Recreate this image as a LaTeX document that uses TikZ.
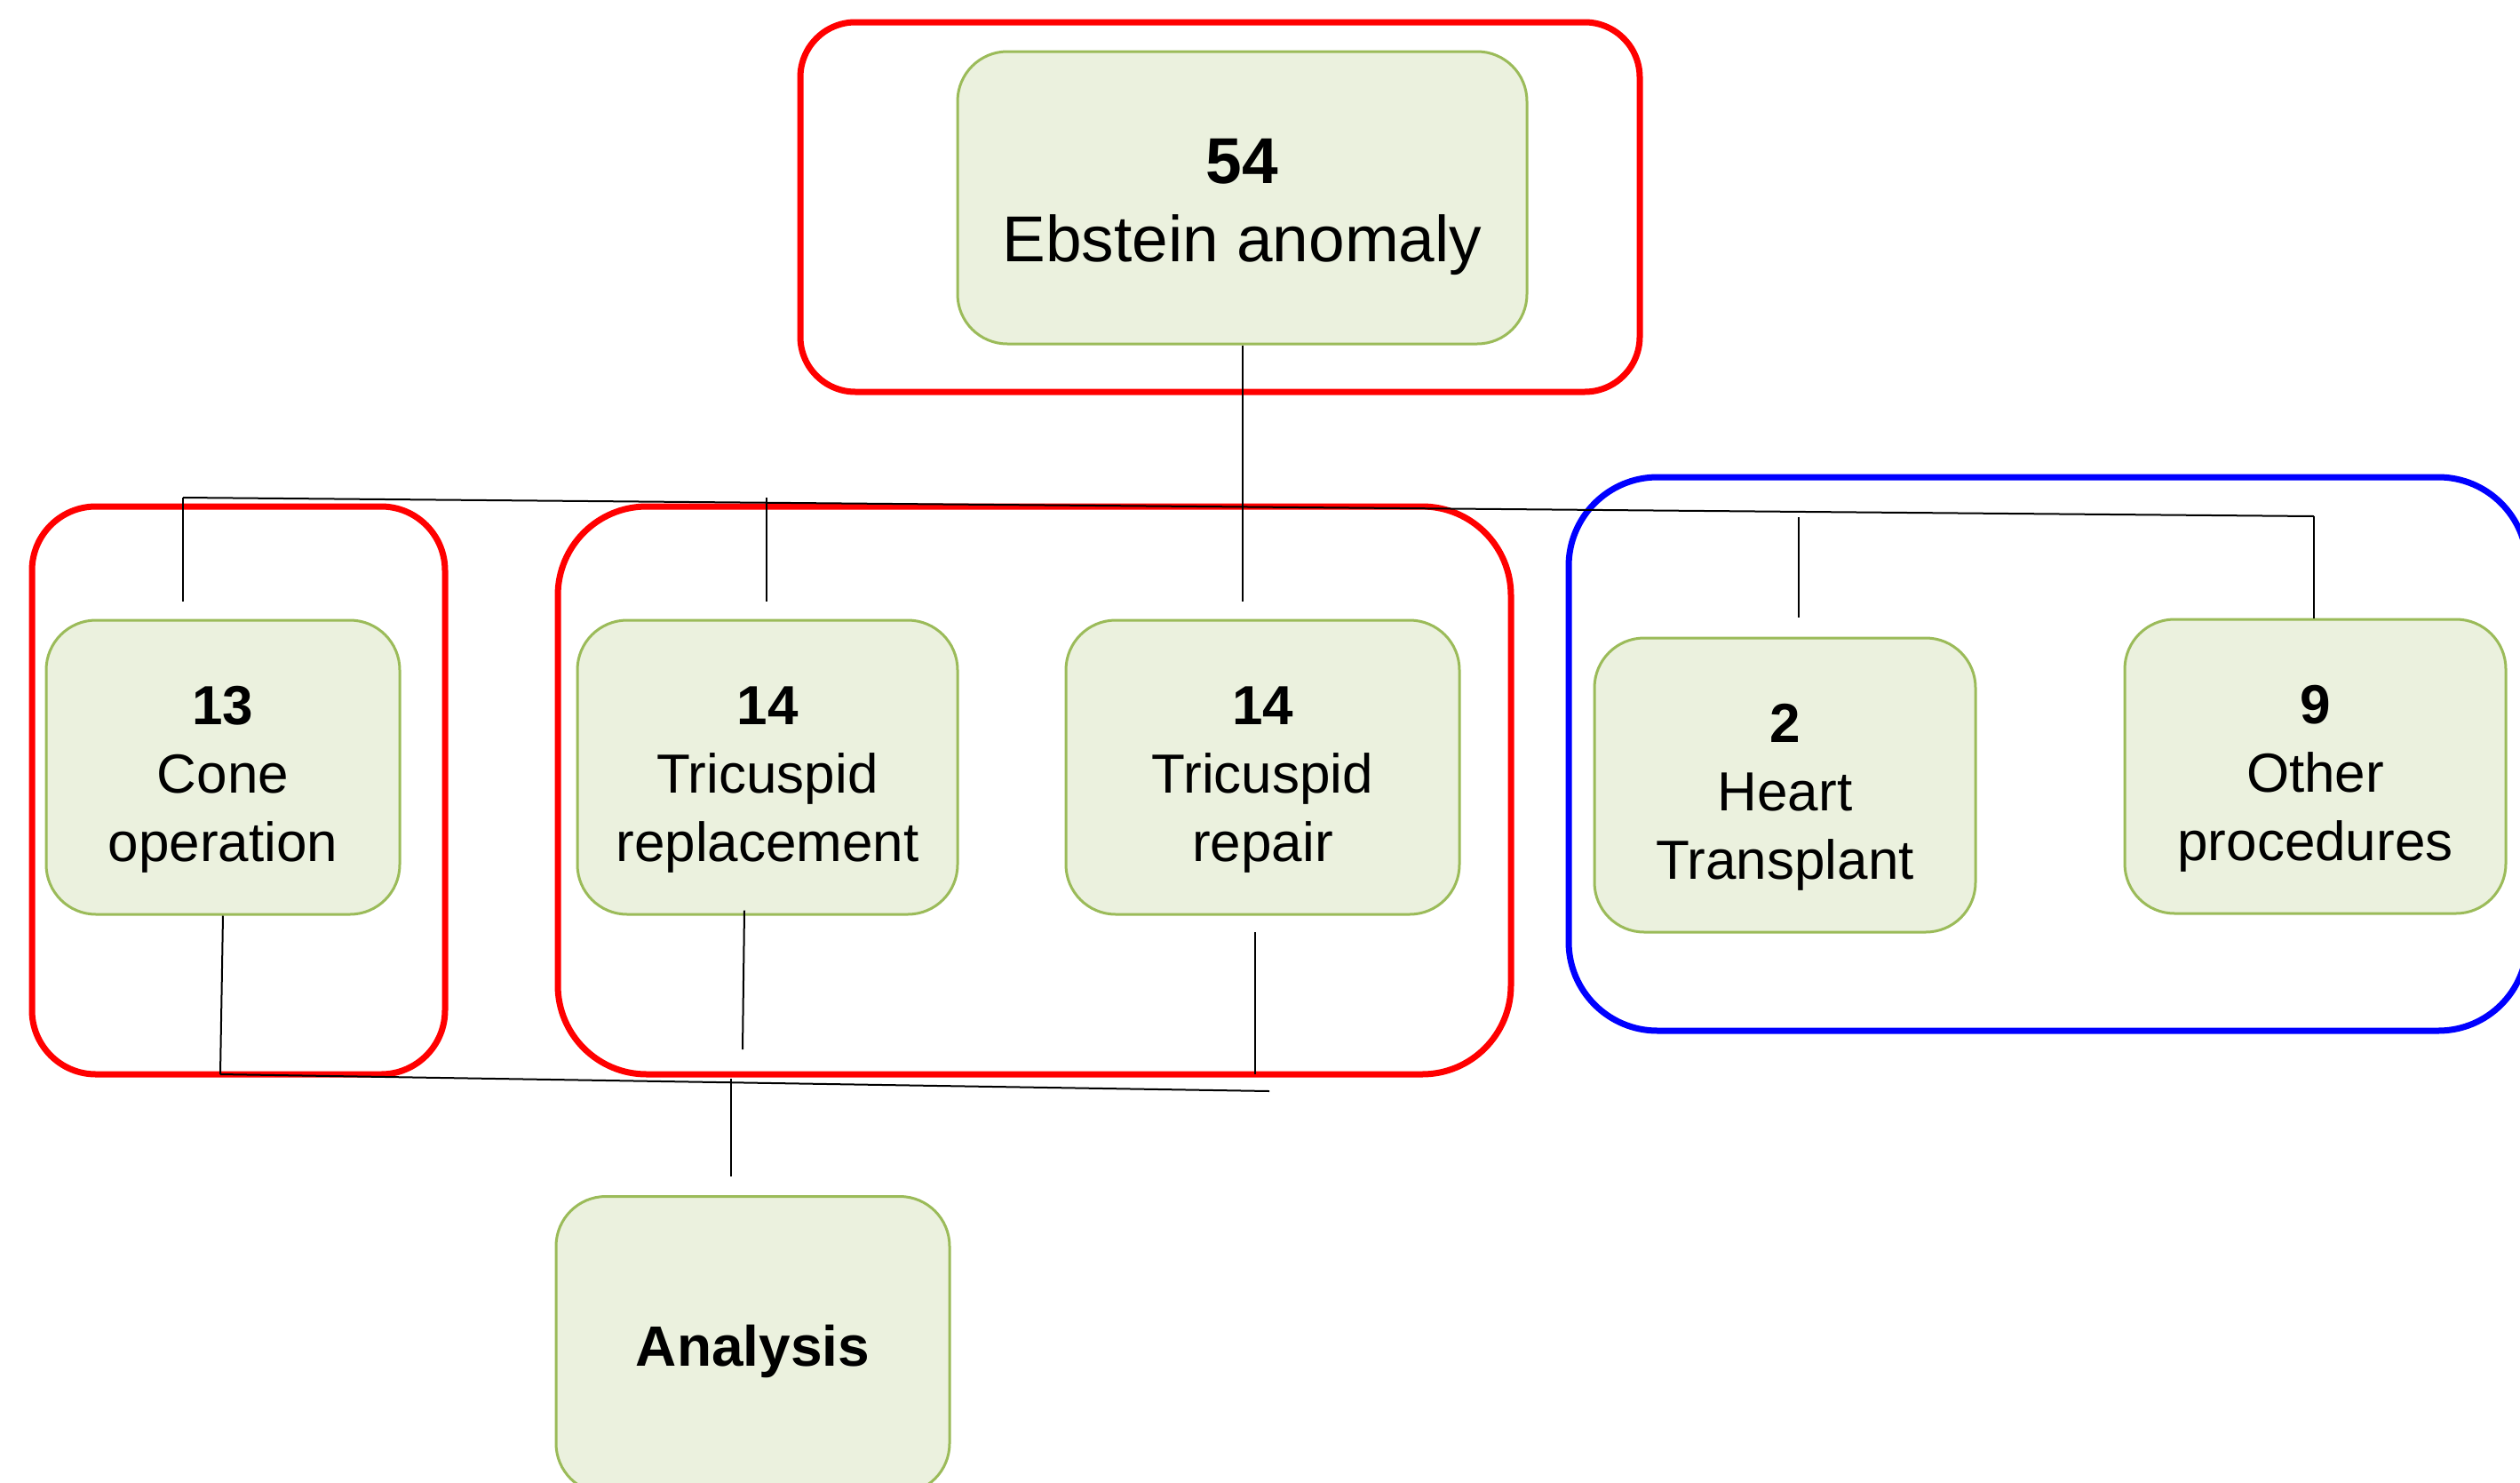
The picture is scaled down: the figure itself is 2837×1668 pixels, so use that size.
\documentclass[tikz,border=0pt]{standalone}
\usepackage{fontspec}
\setmainfont{Liberation Sans}
\definecolor{boxfill}{HTML}{EBF1DE}
\definecolor{boxedge}{HTML}{9BBB59}
\definecolor{grpred}{HTML}{FF0000}
\definecolor{grpblue}{HTML}{0000FF}
\newcommand{\myTopStrut}[1]{\rule{0pt}{#1}}
\begin{document}
\begin{tikzpicture}[x=1pt,y=-1pt,
  box/.style={draw=boxedge, line width=3pt, fill=boxfill, rounded corners=56pt,
    minimum width=#1, minimum height=331pt, inner sep=0pt, align=center,
    font=\fontsize{62}{77}\selectfont},
  redgroup/.style={draw=grpred, line width=7pt, rounded corners=#1, inner sep=0pt},
  bluegroup/.style={draw=grpblue, line width=7pt, rounded corners=#1, inner sep=0pt},
  conn/.style={draw=black, line width=2pt}]
\useasboundingbox (0,0) rectangle (2837,1668);
\clip (0,0) rectangle (2837,1668);
\fill[white] (0,0) rectangle (2837,1668);
% group frames
\node[redgroup=62pt, minimum width=945pt, minimum height=416pt] (gtop) at (1373.5,233) {};
\node[redgroup=72pt, minimum width=465pt, minimum height=639pt] (gcone) at (268.5,889.5) {};
\node[redgroup=100pt, minimum width=1073pt, minimum height=639pt] (gtri) at (1164.5,889.5) {};
\node[bluegroup=100pt, minimum width=1079pt, minimum height=623pt] (gother) at (2305.5,848.5) {};
% boxes
\node[box=641pt, minimum height=329pt, font=\fontsize{73}{88}\selectfont] (ebstein) at (1398.5,222.5) {\myTopStrut{72pt}\textbf{54}\\Ebstein anomaly};
\node[box=398pt] (cone) at (251,863.5) {\myTopStrut{70pt}\textbf{13}\\Cone\\operation};
\node[box=428pt] (trirep) at (864,863.5) {\myTopStrut{70pt}\textbf{14}\\Tricuspid\\replacement};
\node[box=443pt] (trirepair) at (1421.5,863.5) {\myTopStrut{70pt}\textbf{14}\\Tricuspid\\repair};
\node[box=429pt] (heart) at (2009.5,883.5) {\myTopStrut{70pt}\textbf{2}\\Heart\\Transplant};
\node[box=429pt] (other) at (2606.5,862.5) {\myTopStrut{70pt}\textbf{9}\\Other\\procedures};
\node[box=443pt, minimum height=334pt, font=\fontsize{64}{77}\selectfont] (analysis) at (847.5,1513.5) {\myTopStrut{61pt}\textbf{Analysis}};
% upper connectors
\coordinate (hl) at (206,560);
\coordinate (hr) at (2605,581);
\coordinate (coneTop) at (206,677);
\coordinate (trirepTopA) at (863,560);
\coordinate (trirepTopB) at (863,677);
\coordinate (repairTop) at (1399,677);
\coordinate (heartTopA) at (2025,582);
\coordinate (heartTopB) at (2025,695);
\draw[conn] (ebstein.south -| repairTop) -- (repairTop);
\draw[conn] (hl) -- (hr);
\draw[conn] (hl) -- (coneTop);
\draw[conn] (trirepTopA) -- (trirepTopB);
\draw[conn] (heartTopA) -- (heartTopB);
\draw[conn] (hr) -- (hr |- other.north);
% lower connectors
\coordinate (bl) at (248,1209);
\coordinate (br) at (1429,1228);
\coordinate (trirepBot) at (836,1181);
\coordinate (repairBotA) at (1413,1049);
\coordinate (repairBotB) at (1413,1209);
\coordinate (anaTop) at (823,1214);
\coordinate (anaBot) at (823,1324);
\draw[conn] (cone.south) -- (bl);
\draw[conn] ([xshift=-26pt,yshift=6pt]trirep.south) -- (trirepBot);
\draw[conn] (repairBotA) -- (repairBotB);
\draw[conn] (bl) -- (br);
\draw[conn] (anaTop) -- (anaBot);
\end{tikzpicture}
\end{document}
